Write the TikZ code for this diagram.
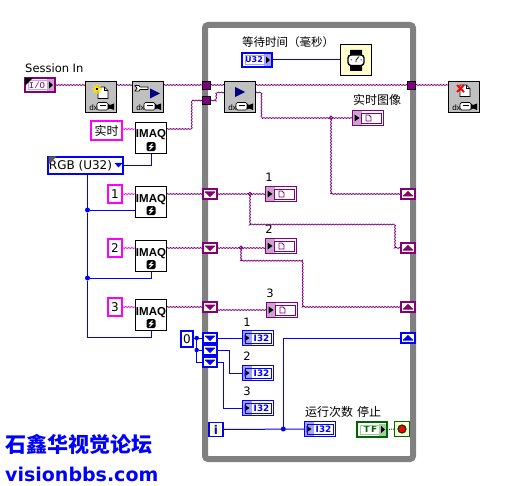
\documentclass[tikz,border=0pt]{standalone}
\usepackage{fontspec}
\usepackage{xcolor}
\usepackage{tikz}
\usetikzlibrary{calc,decorations.pathmorphing}
\setmainfont{DejaVu Sans}
\newfontfamily\cjk{Noto Sans CJK SC}
\newfontfamily\smallsans{Liberation Sans}
\newfontfamily\smallmono{Liberation Mono}
\definecolor{lvPurple}{HTML}{800080}
\definecolor{lvPurpleLt}{HTML}{CCA3CC}
\definecolor{lvPink}{HTML}{FF00FF}
\definecolor{lvBlue}{HTML}{0000FF}
\definecolor{lvBlueLt}{HTML}{A3A3FF}
\definecolor{lvNavy}{HTML}{000080}
\definecolor{lvGreen}{HTML}{006600}
\definecolor{lvGreenLt}{HTML}{A3CCA3}
\definecolor{lvGray}{HTML}{808080}
\definecolor{lvIcon}{HTML}{C0C0C0}
\definecolor{lvCream}{HTML}{FFFFCC}
\tikzset{
  lvframe/.style={draw=lvGray,line width=6pt,rounded corners=3pt,inner sep=0pt,outer sep=0pt,
                  minimum width=208pt,minimum height=434pt},
  lvicon/.style={rectangle,draw=black,fill=lvIcon,line width=.8pt,minimum size=31.5pt,
                 inner sep=0pt,outer sep=0pt},
  lvimaq/.style={rectangle,draw=black,fill=white,line width=.8pt,minimum size=31.5pt,
                 inner sep=0pt,outer sep=0pt,text height=0pt,text depth=0pt,
                 font=\smallsans\bfseries\fontsize{11.5}{12}\selectfont},
  lvwait/.style={lvicon,fill=lvCream},
  lvconst/.style={rectangle,draw=lvPink,fill=white,line width=2pt,inner sep=0pt,outer sep=0pt,
                  font=\fontsize{12}{14}\selectfont},
  lvring/.style={rectangle,draw=lvBlue,fill=white,line width=2pt,inner sep=0pt,outer sep=0pt,
                 minimum width=75pt,minimum height=17.5pt,font=\fontsize{12}{14}\selectfont},
  lvzero/.style={lvconst,draw=lvBlue,minimum width=12pt,minimum height=16pt},
  lvtunnel/.style={rectangle,draw=black,fill=lvPurple,line width=.7pt,minimum size=8.5pt,
                   inner sep=0pt,outer sep=0pt},
  lvsr/.style={rectangle,draw=lvPurple,fill=lvCream,line width=2pt,minimum width=14pt,
               minimum height=10pt,inner sep=0pt,outer sep=0pt},
  lvsrb/.style={lvsr,draw=lvBlue},
  lvimgind/.style={rectangle,draw=lvPurple,fill=white,line width=.9pt,minimum width=31pt,
                   minimum height=15pt,inner sep=0pt,outer sep=0pt},
  lvnumind/.style={lvimgind,draw=lvBlue,text=lvBlue,
                   font=\bfseries\fontsize{8.8}{10}\selectfont},
  lvnumctl/.style={lvnumind,line width=2pt,minimum width=30pt,minimum height=14pt,
                   font=\bfseries\fontsize{8}{10}\selectfont},
  lvsession/.style={lvimgind,line width=2pt,minimum width=30pt,minimum height=14pt,text=lvPurple,
                    font=\smallmono\fontsize{9}{10}\selectfont},
  lvbool/.style={lvimgind,draw=lvGreen,text=lvGreen,line width=2pt,minimum width=30pt,
                 minimum height=15pt,font=\bfseries\fontsize{9}{10}\selectfont},
  lviter/.style={rectangle,draw=lvBlue,fill=lvCream,line width=1.6pt,minimum width=14.5pt,
                 minimum height=14pt,inner sep=0pt,outer sep=0pt,text=lvBlue,
                 font=\bfseries\fontsize{12}{14}\selectfont},
  lvstop/.style={rectangle,draw=lvGreen,fill=lvCream!60,line width=.9pt,minimum size=15.5pt,
                 inner sep=0pt,outer sep=0pt},
  lvstopdot/.style={circle,draw=lvGreen!60!black,fill=red,line width=1.2pt,minimum size=8pt,
                    inner sep=0pt},
  lvdotb/.style={circle,fill=lvBlue,minimum size=5pt,inner sep=0pt,outer sep=0pt},
  lvdotp/.style={circle,draw=lvPurple,fill=white,line width=.8pt,minimum size=3.5pt,
                 inner sep=0pt,outer sep=0pt},
  lvtext/.style={inner sep=0pt,font=\fontsize{11.5}{14}\selectfont},
  lvcjk/.style={inner sep=0pt,font=\cjk\fontsize{12}{14}\selectfont},
  lvmark/.style={inner sep=0pt,text=lvBlue,anchor=west},
  lvimg/.style={lvPurple,line width=.8pt,decorate,
                decoration={zigzag,segment length=3pt,amplitude=.5pt}},
  lvstr/.style={lvimg,lvPink},
  lvnum/.style={lvBlue,line width=1pt},
  lvflag/.style={lvGreen,line width=1pt,densely dotted},
  % glyphs, drawn at a node's centre
  dxcam/.pic={
    \node[inner sep=0pt,font=\smallsans\fontsize{8}{9}\selectfont] (-dxl) at (-7.5,10.5) {dx};
    \draw[black,fill=white,line width=.7pt,rounded corners=1.5pt] (-4,5.5) rectangle (7,13);
    \draw[black,line width=.7pt] (-1,8.5) -- (5,8.5);
    \fill[black] (7,7) -- (9,8) -- (13,6.5) -- (13,13) -- (9,11.5) -- (7,12.5) -- cycle;
  },
  pagefig/.pic={
    \draw[black,fill=white,line width=.6pt] (0,0) -- (6.5,0) -- (10,3.5) -- (10,11.5) -- (0,11.5) -- cycle;
    \draw[black,line width=.5pt] (6.5,0) -- (6.5,3.5) -- (10,3.5);
  },
  newstar/.pic={
    \draw[yellow!90!orange,line width=1.2pt] (-5,0) -- (5,0) (0,-5) -- (0,5) (-3.5,-3.5) -- (3.5,3.5) (-3.5,3.5) -- (3.5,-3.5);
    \fill[black] (-.8,-.8) rectangle (.8,.8);
  },
  redcross/.pic={
    \draw[red,line width=2pt] (-3.5,-3.5) -- (3.5,3.5) (-3.5,3.5) -- (3.5,-3.5);
  },
  wrenchfig/.pic={
    \draw[black,fill=white,line width=.7pt] (-13,-11.5) -- (-9,-11.5) -- (-8,-10) -- (0,-10) -- (0,-7.5) -- (-8,-7.5) -- (-9,-6) -- (-13,-6) -- (-11,-8.7) -- cycle;
  },
  playfig/.pic={\fill[lvNavy] (-5,-5) -- (5,0) -- (-5,5) -- cycle;},
  boltkey/.pic={
    \fill[black,rounded corners=1.5pt] (-4.5,-4.5) rectangle (4.5,4.5);
    \draw[white,line width=1pt] (1.5,-3) -- (-1.5,0) -- (1.5,0) -- (-1.5,3);
  },
  watchfig/.pic={
    \fill[black] (-6,-10) rectangle (6,-4) (-6,4) rectangle (6,11);
    \draw[black,fill=white,line width=1.4pt,rounded corners=3pt] (-8,-5) rectangle (8,5.5);
    \draw[black,line width=.7pt] (0,0) -- (3,-3.5) (0,0) -- (0,2.5);
    \fill[black] (-5.5,-.5) rectangle (-4.5,.5) (4.5,-.5) rectangle (5.5,.5);
  },
  srdown/.pic={\fill[#1] (-5,-2.5) -- (5,-2.5) -- (5,-1.7) -- (0,3) -- (-5,-1.7) -- cycle;},
  srup/.pic={\fill[#1] (-5,2.5) -- (5,2.5) -- (5,1.7) -- (0,-3) -- (-5,1.7) -- cycle;},
  imgface/.pic={
    \fill[lvPurpleLt] (-15,-7) rectangle (-6.5,7);
    \fill[black] (-13.5,-3.5) -- (-8.5,0) -- (-13.5,3.5) -- cycle;
    \draw[lvPurple,line width=.8pt] (-6.5,-5) rectangle (13,5);
    \draw[lvPurple,line width=.8pt] (-2,-3) -- (1,-3) -- (3,-1) -- (3,3) -- (-2,3) -- cycle;
  },
  numface/.pic={
    \fill[lvBlueLt] (-15,-7) rectangle (-6.5,7);
    \fill[black] (-13.5,-3.5) -- (-8.5,0) -- (-13.5,3.5) -- cycle;
    \draw[lvBlue,line width=.8pt] (-12.5,-5) rectangle (13,5);
  },
  outface/.pic={
    \fill[#1] (7,-6) rectangle (14,6);
    \draw[#1,line width=.8pt] (-11.5,-4.5) rectangle (11.5,4.5);
    \fill[black] (9,-3.5) -- (13,0) -- (9,3.5) -- cycle;
  },
  corner/.pic={\fill[#1] (0,0) -- (8,0) -- (0,8) -- cycle;}
}
\begin{document}
\begin{tikzpicture}[x=1pt,y=-1pt]
  \useasboundingbox (0,0) rectangle (529,486);
  \node[lvframe] (loopbox) at (309,242) {};

  % outside the loop
  \node[lvtext,anchor=west] (sesstxt) at (25,68) {Session In};
  \node[lvsession] (sess) at (40,85) {\hspace*{-6pt}I/O};
  \node[lvicon] (init) at (101,97) {};
  \node[lvicon] (cfg) at (148,97) {};
  \node[lvconst,font=\cjk\fontsize{12}{14}\selectfont,minimum width=31pt,minimum height=19pt] (livestr) at (106.5,130.5) {实时};
  \node[lvimaq] (iqlive) at (151,138) {IMAQ};
  \node[lvring] (rgbring) at (85.5,165.5) {\hspace*{-10pt}RGB (U32)};
  \node[lvconst,minimum width=14pt,minimum height=18pt] (str1) at (115,194) {1};
  \node[lvimaq] (iq1) at (151,202) {IMAQ};
  \node[lvconst,minimum width=14pt,minimum height=18pt] (str2) at (115,248) {2};
  \node[lvimaq] (iq2) at (151,256) {IMAQ};
  \node[lvconst,minimum width=14pt,minimum height=18pt] (str3) at (115,307) {3};
  \node[lvimaq] (iq3) at (151,315) {IMAQ};
  \node[lvicon] (close) at (464,97) {};
  \node[lvzero] (zero) at (187,339) {0};
  \node[lvdotb] (jt1) at (87.5,210) {};
  \node[lvdotb] (jt2) at (87.5,278) {};
  \coordinate (jt3) at (87.5,337.5);

  % inside the loop
  \node[lvcjk,font=\cjk\fontsize{11.5}{14}\selectfont,anchor=west] (waittxt) at (242,42) {等待时间（毫秒）};
  \node[lvnumctl] (waitctl) at (257,60) {\hspace*{-6pt}U32};
  \node[lvwait] (waiter) at (356,60) {};
  \node[lvtunnel] (tuna) at (206.5,85.5) {};
  \node[lvtunnel] (tunb) at (206.5,100.5) {};
  \node[lvtunnel] (tunr) at (411.5,85.5) {};
  \node[lvicon] (grab) at (240,97) {};
  \node[lvcjk,anchor=west] (livetxt) at (353,100) {实时图像};
  \node[lvimgind] (indlive) at (368,118) {};
  \node[lvsr] (sl1) at (210,194) {};
  \node[lvsr] (sl2) at (210,248) {};
  \node[lvsr] (sl3) at (210,307) {};
  \node[lvsr] (sr1) at (408,194) {};
  \node[lvsr] (sr2) at (408,248) {};
  \node[lvsr] (sr3) at (408,307) {};
  \node[lvtext] (lab1) at (269,177) {1};
  \node[lvimgind] (ind1) at (281,194) {};
  \node[lvtext] (lab2) at (269,229) {2};
  \node[lvimgind] (ind2) at (281,246) {};
  \node[lvtext] (lab3) at (270,293) {3};
  \node[lvimgind] (ind3) at (282,310) {};
  \node[lvdotp] (jp0) at (331,117.7) {};
  \node[lvdotp] (jp1) at (250,194) {};
  \node[lvdotp] (jp2) at (241,247.7) {};
  \node[lvsrb] (cl1) at (210,338) {};
  \node[lvsrb] (cl2) at (210,350) {};
  \node[lvsrb] (cl3) at (210,362) {};
  \node[lvsrb] (cr1) at (408,338) {};
  \node[lvtext] (nlab1) at (247,322) {1};
  \node[lvnumind] (num1) at (258,338) {\hspace*{7pt}I32};
  \node[lvtext] (nlab2) at (247,356) {2};
  \node[lvnumind] (num2) at (258,373) {\hspace*{7pt}I32};
  \node[lvtext] (nlab3) at (247,391) {3};
  \node[lvnumind] (num3) at (258,408) {\hspace*{7pt}I32};
  \node[lvdotb,minimum size=4.5pt] (jz1) at (196.7,338) {};
  \node[lvdotb,minimum size=4.5pt] (jz2) at (196.7,350) {};
  \node[lviter] (iter) at (216,429.5) {i};
  \node[lvdotb] (ji) at (283.3,429) {};
  \node[lvcjk,anchor=west] (runtxt) at (305,412) {运行次数};
  \node[lvcjk,anchor=west] (stoptxt) at (357,412) {停止};
  \node[lvnumind] (numrun) at (320,429) {\hspace*{7pt}I32};
  \node[lvbool] (stopctl) at (372,429.5) {\hspace*{-3pt}T\,F};
  \node[lvstop] (stopt) at (402,429) {};
  \node[lvstopdot] (stopdot) at (402,429) {};

  % watermark
  \node[lvmark,font=\cjk\bfseries\fontsize{21}{24}\selectfont] (marka) at (5,444) {石鑫华视觉论坛};
  \node[lvmark,font=\bfseries\fontsize{19}{22}\selectfont] (markb) at (5,474) {visionbbs.com};

  % image wires
  \draw[lvimg] (sess.east) -- (sess.east -| init.west);
  \draw[lvimg] (init.east |- sess.east) -- (cfg.west |- sess.east);
  \draw[lvimg] (cfg.east |- sess.east) -- (tuna.west |- sess.east);
  \draw[lvimg] (tuna.east |- sess.east) -- (grab.west |- sess.east);
  \draw[lvimg] (grab.east |- sess.east) -- (tunr.west |- sess.east);
  \draw[lvimg] (tunr.east |- sess.east) -- (close.west |- sess.east);
  \coordinate (iqout) at ($(iqlive.east)+(0,-9)$);
  \draw[lvimg] (iqout) -- ++(25,0) |- (tunb.west);
  \coordinate (grabin) at ($(grab.west)+(0,-4.5)$);
  \draw[lvimg] (tunb.east) -- ++(5.5,0) |- (grabin);
  \coordinate (grabout) at ($(grab.east)+(0,-4.5)$);
  \draw[lvimg] (grabout) -- ++(5.7,0) |- (indlive.west);
  \draw[lvimg] (jp0.south) |- (sr1.west);
  \draw[lvimg] (iq1.east |- sl1.west) -- (sl1.west);
  \draw[lvimg] (iq2.east |- sl2.west) -- (sl2.west);
  \draw[lvimg] (iq3.east |- sl3.west) -- (sl3.west);
  \draw[lvimg] (sl1.east) -- (ind1.west);
  \draw[lvimg] (sl2.east) -- (ind2.west |- sl2.east);
  \draw[lvimg] (ind3.west -| sl3.east) -- (ind3.west);
  \draw[lvimg] (jp1.south) -- ++(0,28.7) -| ($(sr2.west)+(-6,0)$) -- (sr2.west);
  \draw[lvimg] (jp2.south) -- ++(0,11.3) -| ($(sr3.west)+(-98.3,0)$) -- (sr3.west);
  \draw[lvstr] (livestr.east |- iqout) -- (iqlive.west |- iqout);
  \draw[lvstr] (str1.east) -- (iq1.west |- str1.east);
  \draw[lvstr] (str2.east) -- (iq2.west |- str2.east);
  \draw[lvstr] (str3.east) -- (iq3.west |- str3.east);

  % numeric wires
  \draw[lvnum] (rgbring.east) -| (iqlive.south);
  \draw[lvnum] (jt1 |- rgbring.south) -- (jt1) -- (jt2) -- (jt3) -| (iq3.south);
  \draw[lvnum] (jt1) -- (iq1.west |- jt1);
  \draw[lvnum] (jt2) -| (iq2.south);
  \draw[lvnum] (waitctl.east) -- (waiter.west);
  \draw[lvnum] (zero.east |- jz1) -- (cl1.west);
  \draw[lvnum] (jz1) -- (jz2) -- (cl2.west);
  \draw[lvnum] (jz2) |- (cl3.west);
  \draw[lvnum] (cl1.east) -- (num1.west);
  \draw[lvnum] (cl2.east) -- ++(12.7,0) |- (num2.west);
  \draw[lvnum] (cl3.east) -- ++(6.3,0) |- (num3.west);
  \draw[lvnum] (iter.east) -- (numrun.west);
  \draw[lvnum] (ji) |- (cr1.west);
  \draw[lvflag] (stopctl.east) -- (stopt.west);

  % icon faces
  \pic at (sess.center) {outface=lvPurpleLt};
  \pic at ($(sess.center)+(-15,-7)$) {corner=black};
  \pic (initcam) at (init.center) {dxcam};
  \pic at ($(init.center)+(-3,-10)$) {pagefig};
  \pic at ($(init.center)+(-4,-8)$) {newstar};
  \pic (cfgcam) at (cfg.center) {dxcam};
  \pic at (cfg.center) {wrenchfig};
  \pic at ($(cfg.center)+(7,-3.5)$) {playfig};
  \pic (grabcam) at (grab.center) {dxcam};
  \pic at ($(grab.center)+(0,-5)$) {playfig};
  \pic (closecam) at (close.center) {dxcam};
  \pic at ($(close.center)+(-4,-12)$) {pagefig};
  \pic at ($(close.center)+(-3.5,-8.5)$) {redcross};
  \pic at ($(rgbring.center)+(-37,-9)$) {corner=lvGray!70!black};
  \fill[lvBlue] ($(rgbring.center)+(29,-2.5)$) -- ($(rgbring.center)+(37,-2.5)$) -- ($(rgbring.center)+(33,2)$) -- cycle;
  \pic at ($(iqlive.center)+(0,8.7)$) {boltkey};
  \pic at ($(iq1.center)+(0,8.7)$) {boltkey};
  \pic at ($(iq2.center)+(0,8.7)$) {boltkey};
  \pic at ($(iq3.center)+(0,8.7)$) {boltkey};
  \pic at (waitctl.center) {outface=lvBlueLt};
  \pic at (waiter.center) {watchfig};
  \pic at (indlive.center) {imgface};
  \pic at (ind1.center) {imgface};
  \pic at (ind2.center) {imgface};
  \pic at (ind3.center) {imgface};
  \pic at (sl1.center) {srdown=lvPurple};
  \pic at (sl2.center) {srdown=lvPurple};
  \pic at (sl3.center) {srdown=lvPurple};
  \pic at (sr1.center) {srup=lvPurple};
  \pic at (sr2.center) {srup=lvPurple};
  \pic at (sr3.center) {srup=lvPurple};
  \pic at (cl1.center) {srdown=lvBlue};
  \pic at (cl2.center) {srdown=lvBlue};
  \pic at (cl3.center) {srdown=lvBlue};
  \pic at (cr1.center) {srup=lvBlue};
  \pic at (num1.center) {numface};
  \pic at (num2.center) {numface};
  \pic at (num3.center) {numface};
  \pic at (numrun.center) {numface};
  \pic at (stopctl.center) {outface=lvGreenLt};
\end{tikzpicture}
\end{document}
